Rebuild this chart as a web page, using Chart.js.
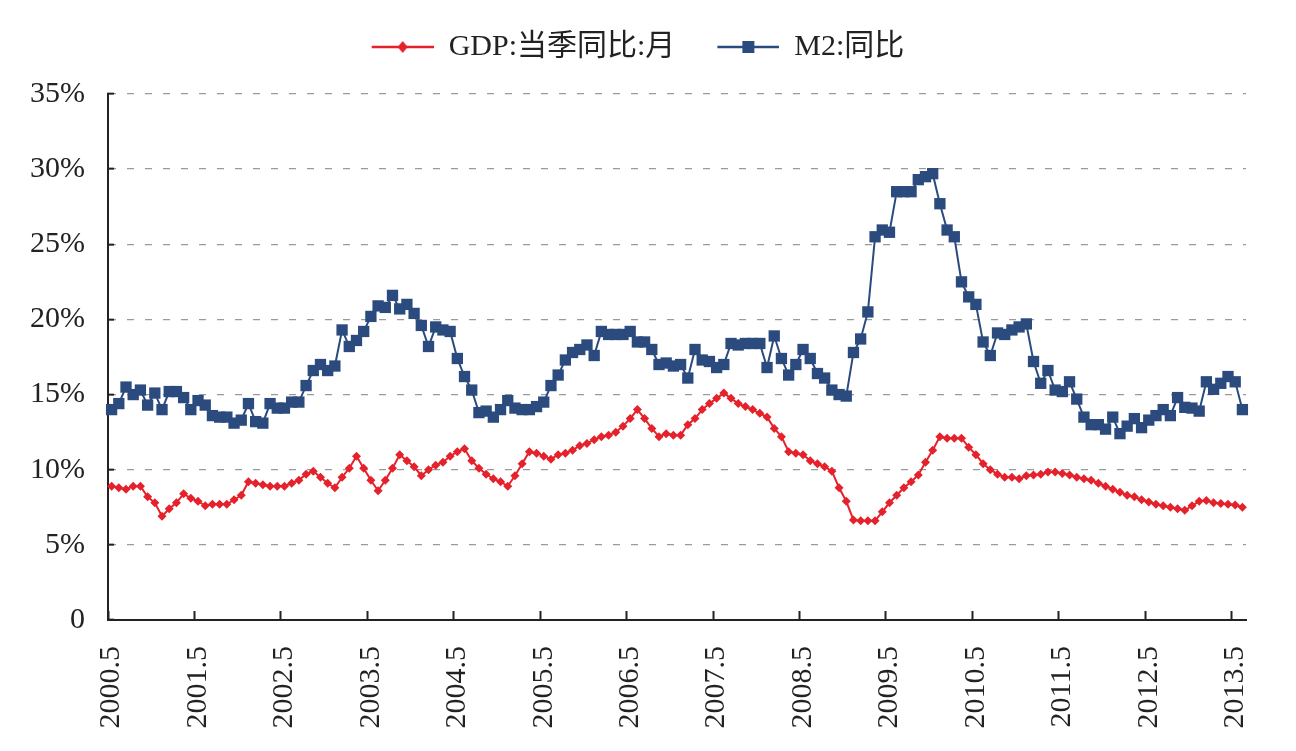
<!DOCTYPE html>
<html>
<head>
<meta charset="utf-8">
<title>GDP vs M2</title>
<script src="https://cdn.jsdelivr.net/npm/chart.js@4/dist/chart.umd.min.js"></script>
<style>
  html, body { margin: 0; padding: 0; background: #fff; }
  #wrap { width: 1296px; height: 751px; }
</style>
</head>
<body>
<div id="wrap"><canvas id="chart" width="1296" height="751"></canvas></div>
<script>
// monthly series, 2000.5 .. 2013.6
var START_YEAR = 2000;
var START_MONTH = 5;

var GDP_LABEL = 'GDP:当季同比:月';
var M2_LABEL = 'M2:同比';

var gdpYoY = [
    8.9, 8.8, 8.7, 8.9, 8.9, 8.2, 7.8, 6.9, 7.4, 7.8, 8.4, 8.1,
    7.9, 7.6, 7.7, 7.7, 7.7, 8.0, 8.3, 9.2, 9.1, 9.0, 8.9, 8.9,
    8.9, 9.1, 9.3, 9.7, 9.9, 9.5, 9.1, 8.8, 9.5, 10.1, 10.9, 10.1,
    9.3, 8.6, 9.3, 10.1, 11.0, 10.6, 10.2, 9.6, 10.0, 10.3, 10.5, 10.9,
    11.2, 11.4, 10.6, 10.1, 9.7, 9.4, 9.2, 8.9, 9.6, 10.4, 11.2, 11.1,
    10.9, 10.7, 11.0, 11.1, 11.3, 11.6, 11.75, 12.0, 12.2, 12.3, 12.5, 12.9,
    13.4, 14.0, 13.4, 12.75, 12.2, 12.4, 12.3, 12.3, 13.0, 13.4, 14.0, 14.4,
    14.75, 15.1, 14.75, 14.4, 14.2, 14.0, 13.75, 13.5, 12.75, 12.2, 11.2, 11.1,
    11.0, 10.6, 10.4, 10.2, 9.9, 8.8, 7.9, 6.65, 6.6, 6.6, 6.6, 7.2,
    7.8, 8.3, 8.8, 9.2, 9.65, 10.5, 11.3, 12.2, 12.1, 12.1, 12.1, 11.5,
    11.0, 10.4, 10.0, 9.7, 9.5, 9.5, 9.4, 9.6, 9.65, 9.7, 9.85, 9.85,
    9.75, 9.65, 9.5, 9.4, 9.3, 9.1, 8.9, 8.7, 8.5, 8.3, 8.2, 8.0,
    7.85, 7.7, 7.6, 7.5, 7.4, 7.3, 7.6, 7.9, 7.95, 7.8, 7.75, 7.7,
    7.65, 7.5
];

var m2YoY = [
    14.0, 14.4, 15.5, 15.0, 15.3, 14.3, 15.1, 14.0, 15.2, 15.2, 14.8, 14.0,
    14.6, 14.3, 13.6, 13.5, 13.5, 13.1, 13.3, 14.4, 13.2, 13.1, 14.4, 14.1,
    14.1, 14.5, 14.5, 15.6, 16.6, 17.0, 16.6, 16.9, 19.3, 18.2, 18.6, 19.2,
    20.2, 20.9, 20.8, 21.6, 20.7, 21.0, 20.4, 19.6, 18.2, 19.5, 19.3, 19.2,
    17.4, 16.2, 15.3, 13.8, 13.9, 13.5, 14.0, 14.6, 14.1, 14.0, 14.0, 14.2,
    14.5, 15.6, 16.3, 17.3, 17.8, 18.0, 18.3, 17.6, 19.2, 19.0, 19.0, 19.0,
    19.2, 18.5, 18.5, 18.0, 17.0, 17.1, 16.9, 17.0, 16.1, 18.0, 17.3, 17.2,
    16.8, 17.0, 18.4, 18.3, 18.4, 18.4, 18.4, 16.8, 18.9, 17.4, 16.3, 17.0,
    18.0, 17.4, 16.4, 16.1, 15.3, 15.0, 14.9, 17.8, 18.7, 20.5, 25.5, 25.95,
    25.8, 28.5, 28.5, 28.5, 29.3, 29.5, 29.7, 27.7, 25.95, 25.5, 22.5, 21.5,
    21.0, 18.5, 17.6, 19.1, 19.0, 19.3, 19.5, 19.7, 17.2, 15.75, 16.6, 15.3,
    15.2, 15.85, 14.7, 13.5, 13.0, 13.0, 12.7, 13.5, 12.4, 12.9, 13.4, 12.8,
    13.3, 13.6, 14.0, 13.6, 14.8, 14.15, 14.1, 13.9, 15.85, 15.35, 15.75, 16.2,
    15.85, 14.0
];

var yTicks = [0, 5, 10, 15, 20, 25, 30, 35];

var RED = '#e5212b';
var BLUE = '#2b4b7e';
var INK = '#222222';
var FONT = "'Liberation Serif', 'Times New Roman', 'Noto Sans CJK SC', serif";

function monthLabels(n) {
    var out = [];
    var y = START_YEAR, m = START_MONTH;
    for (var i = 0; i < n; i++) {
        out.push(y + '.' + m);
        m++;
        if (m > 12) { m = 1; y++; }
    }
    return out;
}

var months = monthLabels(gdpYoY.length);

// legend swatch: line with a marker in the middle, blank margin on the left
function swatch(color, marker) {
    var c = document.createElement('canvas');
    c.width = 92; c.height = 20;
    var g = c.getContext('2d');
    g.strokeStyle = color;
    g.lineWidth = 2.5;
    g.beginPath(); g.moveTo(30, 10); g.lineTo(92, 10); g.stroke();
    g.fillStyle = color;
    g.beginPath();
    if (marker === 'rect') {
        g.rect(55, 4, 12, 12);
    } else {
        g.moveTo(61, 4); g.lineTo(66, 10); g.lineTo(61, 16); g.lineTo(56, 10);
        g.closePath();
    }
    g.fill();
    return c;
}

var swatches = [swatch(RED, 'diamond'), swatch(BLUE, 'rect')];

new Chart(document.getElementById('chart'), {
    type: 'line',
    data: {
        labels: months,
        datasets: [{
            label: GDP_LABEL,
            data: gdpYoY,
            borderColor: RED,
            backgroundColor: RED,
            borderWidth: 2,
            pointStyle: 'rectRot',
            pointRadius: 4.5,
            pointBorderWidth: 0,
            pointBackgroundColor: RED,
            tension: 0,
            fill: false
        }, {
            label: M2_LABEL,
            data: m2YoY,
            borderColor: BLUE,
            backgroundColor: BLUE,
            borderWidth: 2,
            pointStyle: 'rect',
            pointRadius: 8,
            pointBorderWidth: 0,
            pointBackgroundColor: BLUE,
            tension: 0,
            fill: false
        }]
    },
    options: {
        responsive: false,
        animation: false,
        layout: { padding: { top: 20, right: 50, left: 0, bottom: 0 } },
        plugins: {
            tooltip: { enabled: false },
            // empty spacer box between legend and plot
            title: {
                display: true,
                text: '',
                weight: 500,
                font: { size: 10, lineHeight: 1 },
                padding: { top: 0, bottom: 12 }
            },
            legend: {
                display: true,
                position: 'top',
                labels: {
                    usePointStyle: true,
                    pointStyleWidth: 92,
                    padding: 12,
                    color: INK,
                    font: { family: FONT, size: 30 },
                    generateLabels: function (chart) {
                        return chart.data.datasets.map(function (ds, i) {
                            return {
                                text: ds.label,
                                pointStyle: swatches[i],
                                fillStyle: ds.borderColor,
                                strokeStyle: ds.borderColor,
                                lineWidth: 0,
                                hidden: false,
                                datasetIndex: i,
                                fontColor: INK
                            };
                        });
                    }
                }
            }
        },
        scales: {
            x: {
                type: 'category',
                offset: true,
                grid: {
                    display: true,
                    offset: true,
                    drawOnChartArea: false,
                    drawTicks: true,
                    tickLength: -9,
                    tickWidth: 2,
                    tickColor: function (ctx) {
                        return ctx.index % 12 === 0 ? INK : 'rgba(0,0,0,0)';
                    }
                },
                border: { display: true, color: INK, width: 2 },
                ticks: {
                    autoSkip: false,
                    minRotation: 90,
                    maxRotation: 90,
                    padding: 35,
                    color: INK,
                    font: { family: FONT, size: 30 },
                    callback: function (v, i) {
                        return i % 12 === 0 ? months[i] : '';
                    }
                },
                afterFit: function (scale) {
                    scale.height = 131;
                    scale.paddingLeft = 0;
                    scale.paddingRight = 0;
                }
            },
            y: {
                min: yTicks[0],
                max: yTicks[yTicks.length - 1],
                afterBuildTicks: function (scale) {
                    scale.ticks = yTicks.map(function (v) { return { value: v }; });
                },
                grid: {
                    color: '#9a9a9a',
                    lineWidth: 1.3,
                    drawTicks: true,
                    tickLength: -6,
                    tickWidth: 2,
                    tickColor: INK
                },
                border: { display: true, color: INK, width: 2, dash: [7, 11] },
                ticks: {
                    padding: 29,
                    color: INK,
                    font: { family: FONT, size: 30 },
                    callback: function (v) { return v === 0 ? '0' : v + '%'; }
                },
                afterFit: function (scale) { scale.width = 108; }
            }
        }
    }
});
</script>
</body>
</html>
